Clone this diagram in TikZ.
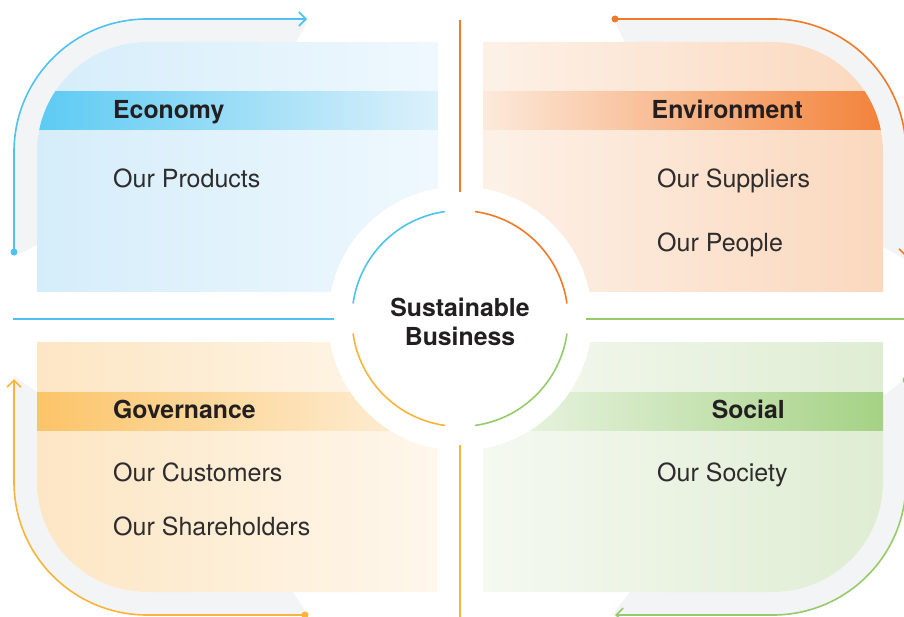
\documentclass[tikz,border=0pt]{standalone}
\usepackage{fontspec}
\setmainfont{TeX Gyre Heros}
\usetikzlibrary{arrows.meta}

% line colours
\definecolor{cBlue}{HTML}{4EC3EF}
\definecolor{cOrange}{HTML}{F07A28}
\definecolor{cYellow}{HTML}{F9B53A}
\definecolor{cGreen}{HTML}{96CB6B}
% panel fills
\definecolor{ecoL}{HTML}{D5EDFA}
\definecolor{ecoR}{HTML}{EFF8FE}
\definecolor{envL}{HTML}{FDF1E7}
\definecolor{envR}{HTML}{FBD8BE}
\definecolor{govL}{HTML}{FDE6C4}
\definecolor{govR}{HTML}{FEF7EC}
\definecolor{socL}{HTML}{F5F9F1}
\definecolor{socR}{HTML}{DFEDD3}
% header bands
\definecolor{ecoBandL}{HTML}{5CCAF3}
\definecolor{ecoBandR}{HTML}{DDF1FB}
\definecolor{envBandL}{HTML}{FCEADB}
\definecolor{envBandR}{HTML}{F3823A}
\definecolor{govBandL}{HTML}{FCC468}
\definecolor{govBandR}{HTML}{FDF1DF}
\definecolor{socBandL}{HTML}{EEF6E8}
\definecolor{socBandR}{HTML}{A5D285}
% text and track
\definecolor{ink}{HTML}{231F20}
\definecolor{inkSoft}{HTML}{2E2C2D}
\definecolor{trackGrey}{HTML}{F3F4F5}

\begin{document}
\begin{tikzpicture}[x=1pt,y=-1pt,
  track/.style={fill=trackGrey},
  link/.style={line width=1.6pt, line cap=round},
  spoke/.style={line width=2pt},
  ring/.style={line width=1.6pt},
  dotmark/.style={circle, inner sep=0pt, minimum size=7pt},
  tip/.style={-{Straight Barb[length=7pt,width=14pt]}},
  head/.style={font=\fontsize{24.8}{29}\selectfont\bfseries, text=ink, inner sep=0pt},
  item/.style={font=\fontsize{25}{29}\selectfont, text=inkSoft, inner sep=0pt},
]
\useasboundingbox (0,0) rectangle (904,617);

% grey tracks behind the outer arrows
\fill[track] (14,257) -- (14,152) arc[start angle=180,end angle=270,radius=133]
  -- (309,19) -- (296,42) -- (147,42) arc[start angle=270,end angle=180,radius=110]
  -- (37,245) -- cycle;
\fill[track] (613,19) -- (773,19) arc[start angle=270,end angle=360,radius=133]
  -- (906,260) -- (883,247) -- (883,152) arc[start angle=0,end angle=-90,radius=110]
  -- (625,42) -- cycle;
\fill[track] (308,615) -- (147,615) arc[start angle=90,end angle=180,radius=133]
  -- (14,376) -- (37,392) -- (37,482) arc[start angle=180,end angle=90,radius=110]
  -- (293,592) -- cycle;
\fill[track] (906,378) -- (906,482) arc[start angle=0,end angle=90,radius=133]
  -- (612,615) -- (630,592) -- (773,592) arc[start angle=90,end angle=0,radius=110]
  -- (883,396) -- cycle;

% Economy panel
\begin{scope}
  \clip (37,292) -- (37,152) arc[start angle=180,end angle=270,radius=110]
    -- (438,42) -- (438,292) -- cycle;
  \shade[left color=ecoL, right color=ecoR] (37,42) rectangle (438,292);
  \shade[left color=ecoBandL, right color=ecoBandR] (37,92) rectangle (438,130);
\end{scope}
% Environment panel
\begin{scope}
  \clip (483,292) -- (483,42) -- (773,42) arc[start angle=270,end angle=360,radius=110]
    -- (883,292) -- cycle;
  \shade[left color=envL, right color=envR] (483,42) rectangle (883,292);
  \shade[left color=envBandL, right color=envBandR] (483,92) rectangle (883,130);
\end{scope}
% Governance panel
\begin{scope}
  \clip (37,342) -- (438,342) -- (438,592) -- (147,592)
    arc[start angle=90,end angle=180,radius=110] -- cycle;
  \shade[left color=govL, right color=govR] (37,342) rectangle (438,592);
  \shade[left color=govBandL, right color=govBandR] (37,392) rectangle (438,430);
\end{scope}
% Social panel
\begin{scope}
  \clip (483,342) -- (883,342) -- (883,482) arc[start angle=0,end angle=90,radius=110]
    -- (483,592) -- cycle;
  \shade[left color=socL, right color=socR] (483,342) rectangle (883,592);
  \shade[left color=socBandL, right color=socBandR] (483,392) rectangle (883,430);
\end{scope}

% central disc and hub
\fill[white] (460,318.5) circle[radius=132];
\node[circle, minimum size=252pt, inner sep=0pt] (hub) at (460,318.5) {};

% spokes
\coordinate (nEnd) at (460,20);
\coordinate (wEnd) at (13,318.5);
\coordinate (eEnd) at (904,318.5);
\coordinate (sEnd) at (460,617);
\draw[spoke, cOrange] (hub.north) -- (nEnd);
\draw[spoke, cBlue]   (hub.west)  -- (wEnd);
\draw[spoke, cGreen]  (hub.east)  -- (eEnd);
\draw[spoke, cYellow] (hub.south) -- (sEnd);

% ring segments
\draw[ring, cBlue]   ([shift={(hub.center)}]188:108) arc[start angle=188,end angle=262,radius=108];
\draw[ring, cOrange] ([shift={(hub.center)}]278:108) arc[start angle=278,end angle=352,radius=108];
\draw[ring, cGreen]  ([shift={(hub.center)}]8:108)   arc[start angle=8,end angle=82,radius=108];
\draw[ring, cYellow] ([shift={(hub.center)}]98:108)  arc[start angle=98,end angle=172,radius=108];

% outer arrows
\node[dotmark, fill=cBlue]   (dTL) at (14,252) {};
\node[dotmark, fill=cOrange] (dTR) at (615,19) {};
\node[dotmark, fill=cYellow] (dBL) at (305,615) {};
\node[dotmark, fill=cGreen]  (dBR) at (906,380) {};
\coordinate (aTL) at (307,19);
\coordinate (aTR) at (906,257);
\coordinate (aBL) at (14,379);
\coordinate (aBR) at (615,615);
\draw[link, tip, cBlue] (dTL.center) -- (14,152)
  arc[start angle=180,end angle=270,radius=133] -- (aTL);
\draw[link, tip, cOrange] (dTR.center) -- (773,19)
  arc[start angle=270,end angle=360,radius=133] -- (aTR);
\draw[link, tip, cYellow] (dBL.center) -- (147,615)
  arc[start angle=90,end angle=180,radius=133] -- (aBL);
\draw[link, tip, cGreen] (dBR.center) -- (906,482)
  arc[start angle=0,end angle=90,radius=133] -- (aBR);

% texts
\node[head, align=center] (core) at (460,322) {Sustainable\\Business};

\node[head, anchor=base west] (eco) at (113,119) {Economy};
\node[item, anchor=base west] (prod) at (113,188) {Our Products};

\node[head, anchor=base east] (env) at (803,119) {Environment};
\node[item, anchor=base west] (supp) at (657,188) {Our Suppliers};
\node[item, anchor=base west] (ppl) at (657,252) {Our People};

\node[head, anchor=base west] (gov) at (113,418.5) {Governance};
\node[item, anchor=base west] (cust) at (113,481) {Our Customers};
\node[item, anchor=base west] (share) at (113,535) {Our Shareholders};

\node[head, anchor=base east] (soc) at (785,418.5) {Social};
\node[item, anchor=base west] (socy) at (657,481) {Our Society};
\end{tikzpicture}
\end{document}
